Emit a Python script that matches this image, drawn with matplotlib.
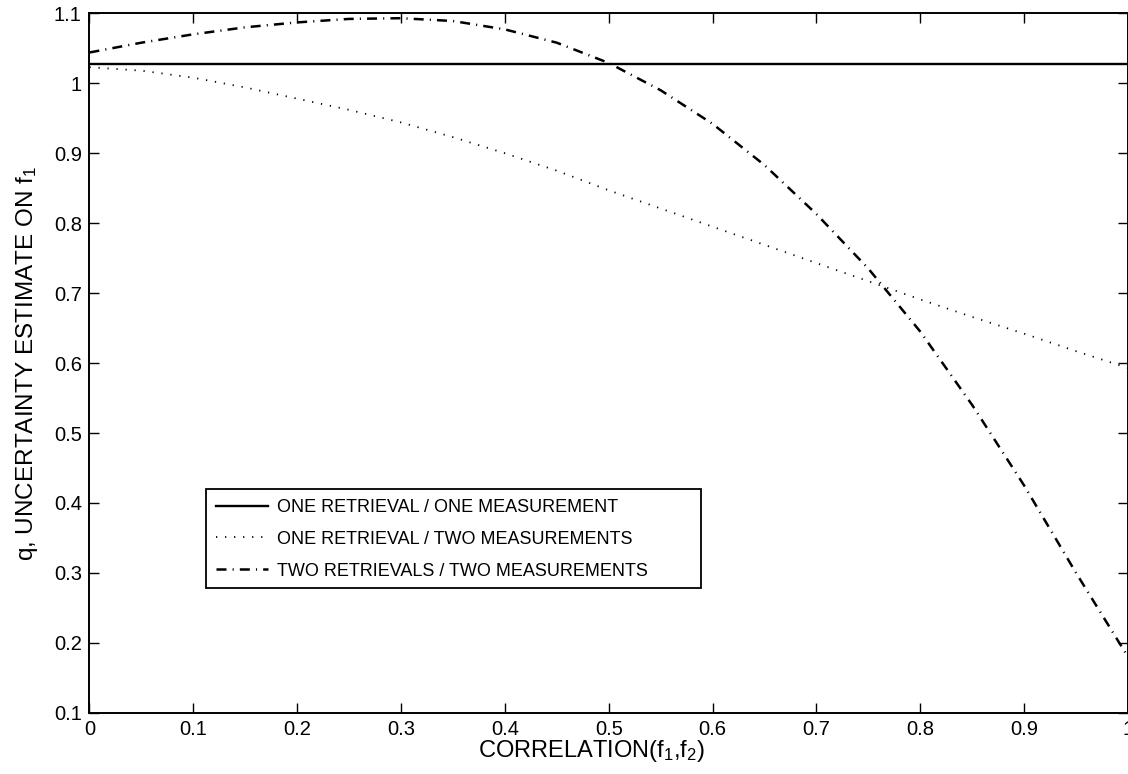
import matplotlib
matplotlib.use("Agg")
import matplotlib.pyplot as plt
from matplotlib.patches import Rectangle
from matplotlib.ticker import FormatStrFormatter

plt.rcParams['font.family'] = ['Liberation Sans', 'DejaVu Sans']
plt.rcParams['mathtext.default'] = 'regular'
plt.rcParams['lines.scale_dashes'] = False

# correlation values (x axis)
corr = [0.00, 0.05, 0.10, 0.15, 0.20, 0.25, 0.30, 0.35, 0.40, 0.45, 0.50,
        0.55, 0.60, 0.65, 0.70, 0.75, 0.80, 0.85, 0.90, 0.95, 1.00]

# one retrieval / one measurement (flat)
one_one = [1.028] * len(corr)

# one retrieval / two measurements
one_two = [1.023, 1.018, 1.008, 0.994, 0.978, 0.962, 0.944, 0.923, 0.900, 0.875, 0.847,
           0.821, 0.795, 0.769, 0.743, 0.717, 0.691, 0.666, 0.642, 0.617, 0.593]

# two retrievals / two measurements
two_two = [1.044, 1.058, 1.070, 1.080, 1.087, 1.092, 1.093, 1.089, 1.077, 1.058, 1.029,
           0.990, 0.942, 0.883, 0.813, 0.735, 0.645, 0.540, 0.425, 0.300, 0.180]

labels = ["ONE RETRIEVAL / ONE MEASUREMENT",
          "ONE RETRIEVAL / TWO MEASUREMENTS",
          "TWO RETRIEVALS / TWO MEASUREMENTS"]

fig = plt.figure(figsize=(11.28, 7.74), dpi=100)
ax = fig.add_axes([0.0793, 0.079, 0.9207, 0.9038])

ax.plot(corr, one_one, color='black', lw=1.7, label=labels[0])
ax.plot(corr, one_two, color='black', lw=1.3, linestyle=(0, (0.9, 5.6)), label=labels[1])
ax.plot(corr, two_two, color='black', lw=1.8, linestyle=(0, (7.2, 4.4, 0.8, 4.4)), label=labels[2])

ax.set_xlim(0, 1)
ax.set_ylim(0.1, 1.1)
ax.set_xticks([0, 0.1, 0.2, 0.3, 0.4, 0.5, 0.6, 0.7, 0.8, 0.9, 1.0])
ax.set_yticks([0.1, 0.2, 0.3, 0.4, 0.5, 0.6, 0.7, 0.8, 0.9, 1.0, 1.1])
ax.xaxis.set_major_formatter(FormatStrFormatter('%g'))
ax.yaxis.set_major_formatter(FormatStrFormatter('%g'))
ax.tick_params(direction='in', length=7.5, width=1, top=True, right=True,
               labelsize=14.5, pad=5.5)
for s in ax.spines.values():
    s.set_linewidth(1.4)

ax.set_xlabel("CORRELATION(f$_1$,f$_2$)", fontsize=17, labelpad=-1)
ax.xaxis.label.set_x(0.4836)
ax.set_ylabel("q, UNCERTAINTY ESTIMATE ON f$_1$", fontsize=17.5, labelpad=10)

# legend box is wider than its text, like the original
ax.add_patch(Rectangle((0.1121, 0.1786), 0.4764, 0.1414, transform=ax.transAxes,
                       facecolor='white', edgecolor='black', lw=1.3, zorder=4))
leg = ax.legend(loc='upper left', bbox_to_anchor=(0.1121, 0.3200), borderaxespad=0,
                frameon=False, fontsize=13,
                handlelength=2.9, handletextpad=0.5, labelspacing=0.82, borderpad=0.55)
leg.set_zorder(5)

fig.savefig("out.png", dpi=100)
